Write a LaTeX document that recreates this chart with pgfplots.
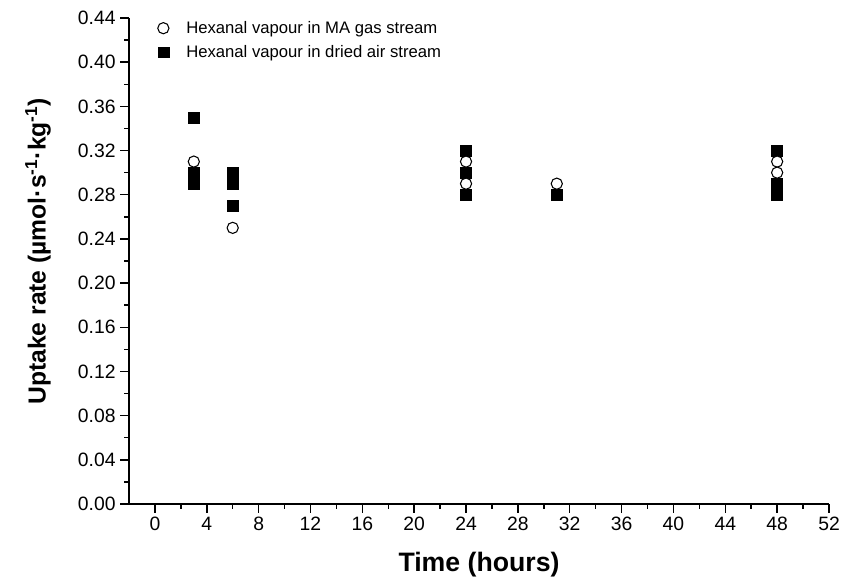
\documentclass[border=0pt]{standalone}
\usepackage{fontspec}
\setmainfont{Liberation Sans}
\usepackage{pgfplots}
\pgfplotsset{compat=1.18}

\begin{document}
\begin{tikzpicture}[x=1pt,y=1pt]
\begin{axis}[
  scale only axis,
  width=525pt, height=364.5pt,
  xmin=-2, xmax=52, ymin=0, ymax=0.44,
  axis lines=left,
  axis line style={-, line width=1.1pt},
  every tick/.style={black, line width=1.1pt},
  tick align=outside,
  major tick length=6.5pt,
  minor tick length=3.5pt,
  xtick={0,4,...,52},
  ytick={0,0.04,...,0.441},
  minor x tick num=1,
  minor y tick num=1,
  /pgf/number format/assume math mode=true,
  yticklabel style={/pgf/number format/fixed, /pgf/number format/fixed zerofill,
                    /pgf/number format/precision=2},
  scaled y ticks=false,
  ticklabel style={font=\fontsize{14.5}{17}\selectfont},
  xlabel={\textbf{Time (hours)}},
  ylabel={\textbf{Uptake rate (µmol·s\textsuperscript{-1}·kg\textsuperscript{-1})}},
  xlabel style={font=\fontsize{20}{23}\selectfont, at={(axis description cs:0.5,-0.125)}, anchor=center},
  ylabel style={font=\fontsize{18.5}{22}\selectfont, at={(axis description cs:-0.13,0.52)}, anchor=center},
  legend style={at={(axis description cs:0.035,1.005)}, anchor=north west,
                draw=none, fill=none, font=\fontsize{12.5}{15}\selectfont,
                row sep=3.5pt, column sep=11pt},
  legend cell align=left,
  clip=false,
]
\coordinate (sw) at (rel axis cs:0,0);

% legend entries
\addlegendimage{only marks, mark=*, mark size=4.2pt, mark options={draw=black, fill=white, line width=0.8pt}}
\addlegendentry{Hexanal vapour in MA gas stream}
\addlegendimage{only marks, mark=square*, mark size=4.1pt}
\addlegendentry{Hexanal vapour in dried air stream}

% dried air stream
\addplot[only marks, mark=square*, mark size=4.1pt, forget plot] coordinates {
  (3,0.35) (3,0.30) (3,0.29)
  (6,0.30) (6,0.29) (6,0.27)
  (24,0.32) (24,0.30) (24,0.28)
  (31,0.28)
  (48,0.32) (48,0.29) (48,0.28)
};

% MA gas stream
\addplot[only marks, mark=*, mark size=4.2pt, mark options={draw=black, fill=white, line width=0.8pt}, forget plot] coordinates {
  (3,0.31)
  (6,0.25)
  (24,0.31) (24,0.29)
  (31,0.29)
  (48,0.31) (48,0.30)
};
\end{axis}
\pgfresetboundingbox
\path[use as bounding box] ([shift={(-96.75pt,-60pt)}]sw) rectangle ++(630.75pt,438pt);
\end{tikzpicture}
\end{document}
